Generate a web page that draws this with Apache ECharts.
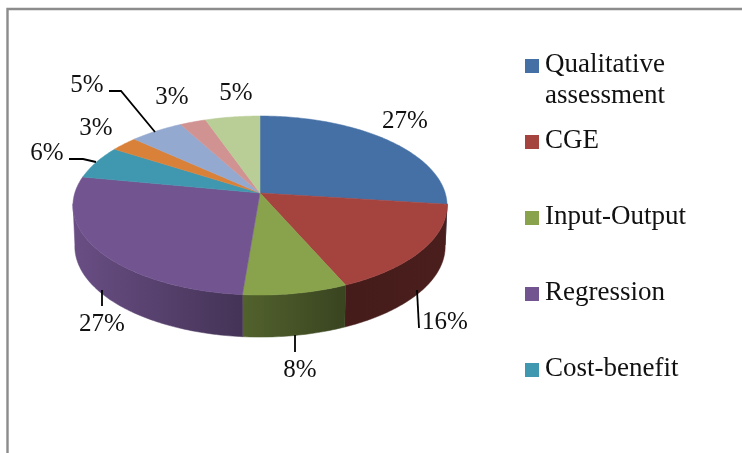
<!DOCTYPE html>
<html>
<head>
<meta charset="utf-8">
<title>Pie</title>
<style>
  html, body { margin: 0; background: #fff; }
  #chart { width: 742px; height: 453px; }
</style>
</head>
<body>
<div id="chart"></div>
<script src="https://cdn.jsdelivr.net/npm/echarts@6/dist/echarts.min.js"></script>
<script>
// values, labels show them rounded
var values = [27, 16.4, 7.9, 26.7, 6, 2.7, 5.3, 2.6, 5.4]
var legendNames = ['Qualitative\nassessment', 'CGE', 'Input-Output', 'Regression', 'Cost-benefit']

var colors = ['#4470a6', '#a5433f', '#88a34b', '#725590', '#4098b0', '#d98139', '#93a9cf', '#d19392', '#b9cd96']

// label centres, same order as values
var labelPos = [[405, 121], [445, 322], [300, 370], [102, 324], [47, 153], [96, 128], [87, 85], [172, 97], [236, 93]]
// leader lines, only some labels have one
var leaders = {
  1: [[417, 290], [419, 328]],
  2: [[295, 335], [295, 352]],
  3: [[102, 290], [102, 306]],
  4: [[69, 159], [83, 159], [96, 162]],
  6: [[109, 91], [121, 91], [155, 132]]
}

var FONT = '"Liberation Serif", serif'
var cx = 260
var cy = 193 // where the spokes meet, the disc is drawn in perspective
var A = 185.2
var B = 87.76
var P = 0.1397
var DEPTH = 41

// angle in percent of the circle, clockwise from the top
function topPoint(pct) {
  var t = pct / 100 * Math.PI * 2
  var u = Math.sin(t)
  var v = Math.cos(t)
  var w = 1 + P * v
  return [cx + A * u / w, cy - B * v / w]
}

function bottomPoint(pct) {
  var p = topPoint(pct)
  return [cx + (p[0] - cx) * 0.99, p[1] + DEPTH + (p[1] - 205) * 0.012]
}

function arc(fn, from, to) {
  var pts = []
  var n = Math.max(2, Math.ceil((to - from) / 0.25))
  for (var i = 0; i <= n; i++) {
    pts.push(fn(from + (to - from) * i / n))
  }
  return pts
}

function darken(hex, k) {
  var c = echarts.color.parse(hex)
  return 'rgb(' + Math.round(c[0] * k) + ',' + Math.round(c[1] * k) + ',' + Math.round(c[2] * k) + ')'
}

// side walls get darker towards the right
function wallFill(hex) {
  return {
    type: 'linear', x: 73, y: 0, x2: 447, y2: 0, global: true,
    colorStops: [
      { offset: 0, color: darken(hex, 0.92) },
      { offset: 0.455, color: darken(hex, 0.6) },
      { offset: 0.73, color: darken(hex, 0.42) },
      { offset: 1, color: darken(hex, 0.45) }
    ]
  }
}

var sliceData = []
var running = 0
values.forEach(function (v) {
  sliceData.push([running, running + v, v])
  running += v
})

function renderWall(params, api) {
  // only the front part of the rim shows
  var from = Math.max(api.value(0), 26.9)
  var to = Math.min(api.value(1), 73.1)
  if (to <= from) {
    return { type: 'group', children: [] }
  }
  var pts = arc(topPoint, from, to).concat(arc(bottomPoint, from, to).reverse())
  var fill = wallFill(colors[params.dataIndex])
  return {
    type: 'polygon',
    shape: { points: pts },
    style: { fill: fill, stroke: fill, lineWidth: 0.5 }
  }
}

function renderTop(params, api) {
  var i = params.dataIndex
  var pts = [[cx, cy]].concat(arc(topPoint, api.value(0), api.value(1)))
  return {
    type: 'polygon',
    shape: { points: pts },
    style: { fill: colors[i], stroke: colors[i], lineWidth: 0.5 }
  }
}

function renderLabel(params, api) {
  var i = params.dataIndex
  var children = [{
    type: 'text',
    style: {
      x: labelPos[i][0],
      y: labelPos[i][1],
      text: Math.round(api.value(2)) + '%',
      font: '25px ' + FONT,
      fill: '#111',
      textAlign: 'center',
      textVerticalAlign: 'middle'
    }
  }]
  if (leaders[i]) {
    children.push({
      type: 'polyline',
      shape: { points: leaders[i] },
      style: { stroke: '#000', lineWidth: 1.8, fill: null }
    })
  }
  return { type: 'group', children: children }
}

var graphics = [{
  type: 'polyline',
  silent: true,
  shape: { points: [[7.5, 453], [7.5, 9], [742, 9]] },
  style: { stroke: '#8c8c8c', lineWidth: 2.4, fill: null }
}]

legendNames.forEach(function (name, i) {
  var y = 59 + i * 76
  graphics.push({
    type: 'rect',
    silent: true,
    shape: { x: 525, y: y, width: 14, height: 14 },
    style: { fill: colors[i] }
  })
  graphics.push({
    type: 'text',
    silent: true,
    style: {
      x: 545,
      y: y - 10,
      text: name,
      font: '27px ' + FONT,
      lineHeight: 31,
      fill: '#111',
      textAlign: 'left',
      textVerticalAlign: 'top'
    }
  })
})

var chart = echarts.init(document.getElementById('chart'))
var option = {
  animation: false,
  backgroundColor: '#fff',
  graphic: graphics,
  series: [
    { type: 'custom', coordinateSystem: 'none', silent: true, z: 1, data: sliceData, renderItem: renderWall },
    { type: 'custom', coordinateSystem: 'none', silent: true, z: 2, data: sliceData, renderItem: renderTop },
    { type: 'custom', coordinateSystem: 'none', silent: true, z: 3, data: sliceData, renderItem: renderLabel }
  ]
}
chart.setOption(option)
</script>
</body>
</html>
